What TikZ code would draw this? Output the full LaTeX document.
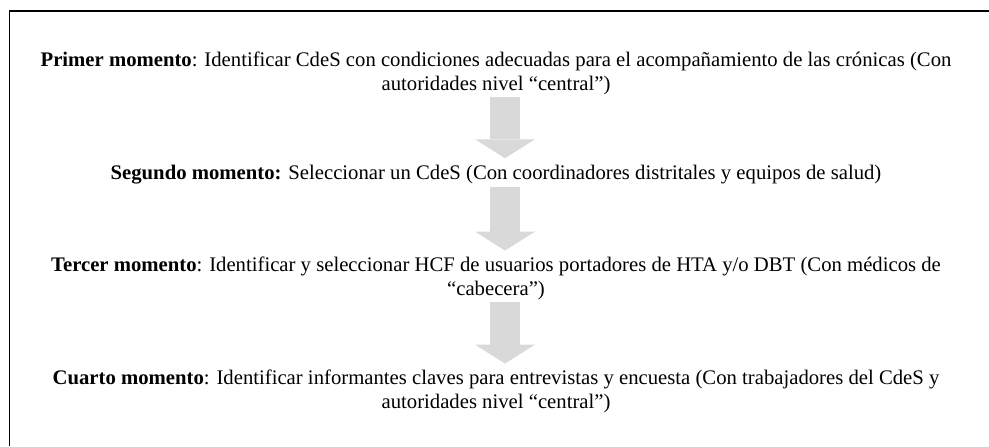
\documentclass[tikz,border=0pt]{standalone}
\usepackage{fontspec}
\setmainfont{Liberation Serif}
\usetikzlibrary{arrows.meta, positioning, calc}
\definecolor{grisflecha}{RGB}{217,217,217}

\begin{document}
\begin{tikzpicture}[
  x=0.5795pt, y=-0.5795pt,
  font=\fontsize{12}{13.6}\selectfont,
  momento/.style={align=center, inner sep=0pt, anchor=base},
  flecha/.style={draw=grisflecha, line width=17.4pt, shorten <=1.5pt, shorten >=3.5pt,
                 -{Triangle[length=11pt, width=34.8pt, line width=0pt]}},
  marco/.style={draw=black, line width=1.1pt}
]
\useasboundingbox (0,0) rectangle (989,446);

\coordinate (eje) at (505,0);

\node[momento] (primero) at (496,90)
  {\textbf{Primer momento}: Identificar CdeS con condiciones adecuadas para el acompañamiento de las crónicas (Con\\
   autoridades nivel “central”)};
\node[momento] (segundo) at (496,179)
  {\textbf{Segundo momento:} Seleccionar un CdeS (Con coordinadores distritales y equipos de salud)};
\node[momento] (tercero) at (496,295)
  {\textbf{Tercer momento}: Identificar y seleccionar HCF de usuarios portadores de HTA y/o DBT (Con médicos de\\
   “cabecera”)};
\node[momento] (cuarto) at (496,408)
  {\textbf{Cuarto momento}: Identificar informantes claves para entrevistas y encuesta (Con trabajadores del CdeS y\\
   autoridades nivel “central”)};

\draw[flecha] (primero.south -| eje) -- (segundo.north -| eje);
\draw[flecha] (segundo.south -| eje) -- (tercero.north -| eje);
\draw[flecha] (tercero.south -| eje) -- (cuarto.north -| eje);

\draw[marco] (9.5,446) |- (989,11.3);

\end{tikzpicture}
\end{document}
